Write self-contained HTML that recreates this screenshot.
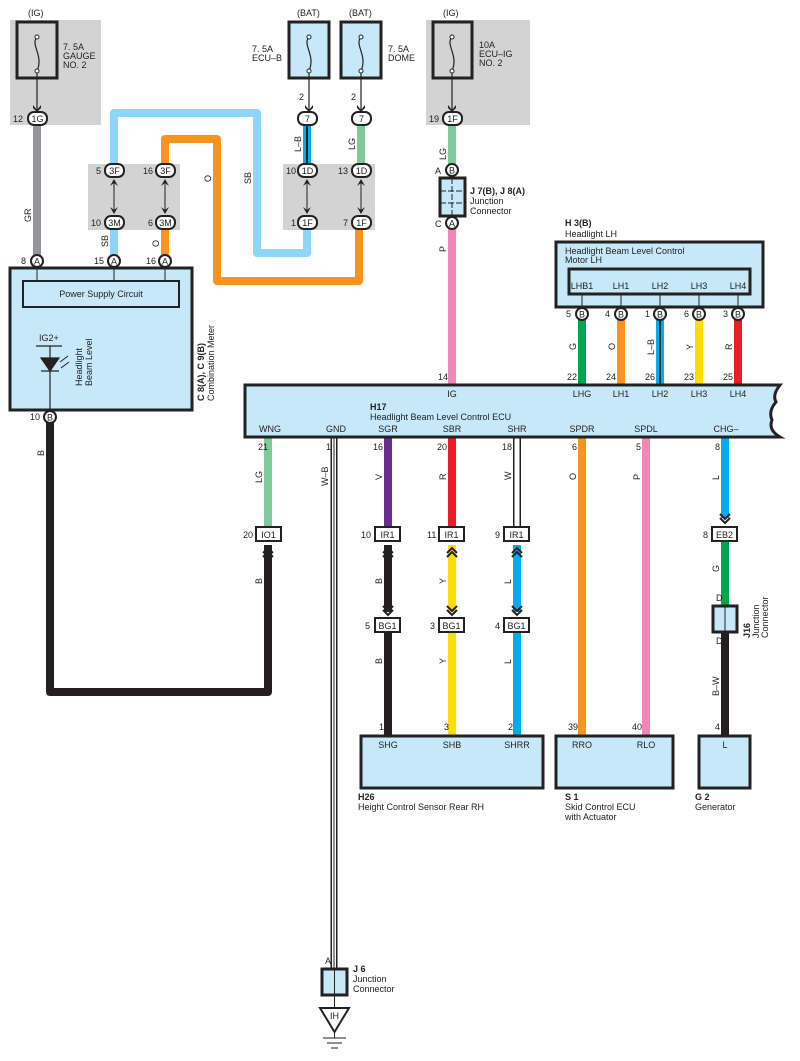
<!DOCTYPE html>
<html><head><meta charset="utf-8"><style>
body{margin:0;background:#fff}
svg{display:block}
text{font-family:"Liberation Sans",sans-serif;font-size:9px;fill:#222}
.b{font-weight:bold}
</style></head><body>
<svg width="800" height="1061" viewBox="0 0 800 1061" xmlns="http://www.w3.org/2000/svg">
<defs>
<g id="dn"><path d="M-4,-6 L0,-1 L4,-6 L4,-3 L0,1 L-4,-3Z" fill="#222"/></g>
</defs>
<rect x="10" y="20" width="91" height="105" fill="#d3d3d3"/>
<rect x="426" y="20" width="104" height="105" fill="#d3d3d3"/>
<rect x="88" y="164" width="92" height="66" fill="#d3d3d3"/>
<rect x="283" y="164" width="92" height="66" fill="#d3d3d3"/>

<g stroke="#222" stroke-width="3">
<rect x="17" y="22" width="40" height="56" fill="none"/>
<rect x="289" y="22" width="40" height="56" fill="#c6e8f8"/>
<rect x="341" y="22" width="40" height="56" fill="#c6e8f8"/>
<rect x="433" y="22" width="39" height="56" fill="none"/>
</g>
<g fill="none" stroke="#222" stroke-width="1.2">
<path d="M37,37 C30,45 44,55 37,71"/><path d="M309,37 C302,45 316,55 309,71"/><path d="M361,37 C354,45 368,55 361,71"/><path d="M452,37 C445,45 459,55 452,71"/>
<path d="M37,71 V116 M309,71 V116 M361,71 V116 M452,71 V116"/>
</g>
<g fill="#fff" stroke="#222" stroke-width="1"><circle cx="37" cy="37" r="2"/><circle cx="37" cy="71" r="2"/><circle cx="309" cy="37" r="2"/><circle cx="309" cy="71" r="2"/><circle cx="361" cy="37" r="2"/><circle cx="361" cy="71" r="2"/><circle cx="452" cy="37" r="2"/><circle cx="452" cy="71" r="2"/></g>
<use href="#dn" x="37" y="111"/><use href="#dn" x="309" y="111"/><use href="#dn" x="361" y="111"/><use href="#dn" x="452" y="111"/>
<text x="28" y="16">(IG)</text><text x="297" y="16">(BAT)</text><text x="349" y="16">(BAT)</text><text x="443" y="16">(IG)</text>
<text x="63" y="50">7. 5A</text><text x="63" y="59">GAUGE</text><text x="63" y="68">NO. 2</text>
<text x="252" y="52">7. 5A</text><text x="252" y="61">ECU–B</text>
<text x="388" y="52">7. 5A</text><text x="388" y="61">DOME</text>
<text x="479" y="48">10A</text><text x="479" y="57">ECU–IG</text><text x="479" y="66">NO. 2</text>
<text x="299" y="100">2</text><text x="351" y="100">2</text>

<g fill="none" stroke-linejoin="round">
<path d="M37,124 V255" stroke="#939598" stroke-width="8"/>
<path d="M114,230 V255" stroke="#8ed6f7" stroke-width="8"/>
<path d="M165,230 V255" stroke="#f7941d" stroke-width="8"/>
<path d="M114,165 V113 H257 V253 H307 V229" stroke="#8ed6f7" stroke-width="8"/>
<path d="M165,165 V139 H217 V281 H359 V229" stroke="#f7941d" stroke-width="8"/>
<path d="M307,124 V165" stroke="#00aeef" stroke-width="8"/><path d="M307,124 V165" stroke="#222" stroke-width="2"/>
<path d="M361,124 V165" stroke="#80c99a" stroke-width="8"/>
<path d="M452,124 V165" stroke="#80c99a" stroke-width="8"/>
<path d="M452,229 V386" stroke="#f287b7" stroke-width="8"/>
<path d="M582,320 V386" stroke="#00a651" stroke-width="8"/>
<path d="M621,320 V386" stroke="#f7941d" stroke-width="8"/>
<path d="M660,320 V386" stroke="#00aeef" stroke-width="8"/><path d="M660,320 V386" stroke="#222" stroke-width="2"/>
<path d="M699,320 V386" stroke="#ffdd00" stroke-width="8"/>
<path d="M738,320 V386" stroke="#ed1c24" stroke-width="8"/>
<path d="M50,423 V692 H268 V545" stroke="#231f20" stroke-width="8"/>
<path d="M268,437 V527" stroke="#80c99a" stroke-width="8"/>
<path d="M388,437 V527" stroke="#6a2c91" stroke-width="8"/>
<path d="M452,437 V527" stroke="#ed1c24" stroke-width="8"/>
<path d="M517,437 V527" stroke="#222" stroke-width="8"/><path d="M517,437 V527" stroke="#fff" stroke-width="5"/>
<path d="M582,437 V736" stroke="#f7941d" stroke-width="8"/>
<path d="M646,437 V736" stroke="#f287b7" stroke-width="8"/>
<path d="M725,437 V518" stroke="#00aeef" stroke-width="8"/>
<path d="M725,541 V606" stroke="#00a651" stroke-width="8"/>
<path d="M725,632 V736" stroke="#231f20" stroke-width="8"/>
<path d="M388,545 V612 M388,632 V736" stroke="#231f20" stroke-width="8"/>
<path d="M452,545 V612 M452,632 V736" stroke="#ffdd00" stroke-width="8"/>
<path d="M517,545 V612 M517,632 V736" stroke="#00aeef" stroke-width="8"/>
<path d="M334,437 V969" stroke="#222" stroke-width="7"/><path d="M334,437 V969" stroke="#fff" stroke-width="4"/><path d="M334,437 V969" stroke="#222" stroke-width="1"/>
</g>
<g font-size="9">
<text transform="translate(31,222) rotate(-90)">GR</text>
<text transform="translate(108,247) rotate(-90)">SB</text>
<text transform="translate(159,247) rotate(-90)">O</text>
<text transform="translate(211,182) rotate(-90)">O</text>
<text transform="translate(251,184) rotate(-90)">SB</text>
<text transform="translate(301,152) rotate(-90)">L–B</text>
<text transform="translate(355,150) rotate(-90)">LG</text>
<text transform="translate(446,160) rotate(-90)">LG</text>
<text transform="translate(446,252) rotate(-90)">P</text>
<text transform="translate(576,350) rotate(-90)">G</text>
<text transform="translate(615,350) rotate(-90)">O</text>
<text transform="translate(654,355) rotate(-90)">L–B</text>
<text transform="translate(693,350) rotate(-90)">Y</text>
<text transform="translate(732,350) rotate(-90)">R</text>
<text transform="translate(44,456) rotate(-90)">B</text>
<text transform="translate(262,483) rotate(-90)">LG</text>
<text transform="translate(328,486) rotate(-90)">W–B</text>
<text transform="translate(382,480) rotate(-90)">V</text>
<text transform="translate(446,480) rotate(-90)">R</text>
<text transform="translate(511,480) rotate(-90)">W</text>
<text transform="translate(576,480) rotate(-90)">O</text>
<text transform="translate(640,480) rotate(-90)">P</text>
<text transform="translate(719,480) rotate(-90)">L</text>
<text transform="translate(262,584) rotate(-90)">B</text>
<text transform="translate(382,584) rotate(-90)">B</text>
<text transform="translate(446,584) rotate(-90)">Y</text>
<text transform="translate(511,584) rotate(-90)">L</text>
<text transform="translate(719,572) rotate(-90)">G</text>
<text transform="translate(382,664) rotate(-90)">B</text>
<text transform="translate(446,664) rotate(-90)">Y</text>
<text transform="translate(511,664) rotate(-90)">L</text>
<text transform="translate(719,696) rotate(-90)">B–W</text>
</g>

<g fill="#fff" stroke="#222" stroke-width="2">
<rect x="28" y="112" width="19" height="13" rx="6"/>
<rect x="298" y="112" width="19" height="13" rx="6"/><rect x="352" y="112" width="19" height="13" rx="6"/>
<rect x="443" y="112" width="19" height="13" rx="6"/>
<rect x="105" y="164" width="19" height="13" rx="6"/><rect x="156" y="164" width="19" height="13" rx="6"/>
<rect x="105" y="216" width="19" height="13" rx="6"/><rect x="156" y="216" width="19" height="13" rx="6"/>
<rect x="298" y="164" width="19" height="13" rx="6"/><rect x="352" y="164" width="19" height="13" rx="6"/>
<rect x="298" y="216" width="19" height="13" rx="6"/><rect x="352" y="216" width="19" height="13" rx="6"/>
</g>
<g text-anchor="middle" font-size="9">
<text x="37.5" y="122">1G</text><text x="307.5" y="122">7</text><text x="361.5" y="122">7</text><text x="452.5" y="122">1F</text>
<text x="114.5" y="174">3F</text><text x="165.5" y="174">3F</text><text x="114.5" y="226">3M</text><text x="165.5" y="226">3M</text>
<text x="307.5" y="174">1D</text><text x="361.5" y="174">1D</text><text x="307.5" y="226">1F</text><text x="361.5" y="226">1F</text>
</g>
<text x="13" y="122">12</text><text x="429" y="122">19</text>
<text x="96" y="174">5</text><text x="143" y="174">16</text><text x="91" y="226">10</text><text x="148" y="226">6</text>
<text x="286" y="174">10</text><text x="338" y="174">13</text><text x="291" y="226">1</text><text x="343" y="226">7</text>
<g stroke="#222" stroke-width="1"><path d="M114,180 V213 M165,180 V213 M307,180 V213 M361,180 V213"/></g>
<g fill="#222">
<path d="M110,186 L114,179 L118,186 L114,183Z M161,186 L165,179 L169,186 L165,183Z M303,186 L307,179 L311,186 L307,183Z M357,186 L361,179 L365,186 L361,183Z"/>
<path d="M110,207 L114,214 L118,207 L114,210Z M161,207 L165,214 L169,207 L165,210Z M303,207 L307,214 L311,207 L307,210Z M357,207 L361,214 L365,207 L361,210Z"/>
</g>

<rect x="440" y="178" width="25" height="38" fill="#c6e8f8" stroke="#222" stroke-width="3"/>
<path d="M452,178 V216 M440,191 H465 M440,203 H465" stroke="#222" stroke-width="1" stroke-dasharray="6,2"/>
<text x="470" y="194" class="b">J 7(B), J 8(A)</text><text x="470" y="204">Junction</text><text x="470" y="214">Connector</text>
<text x="435" y="174">A</text><text x="435" y="227">C</text>

<rect x="10" y="268" width="182" height="142" fill="#c6e8f8" stroke="#222" stroke-width="3"/>
<rect x="23" y="281" width="156" height="26" fill="#c6e8f8" stroke="#222" stroke-width="2"/>
<path d="M37,268 V281 M114,268 V281 M165,268 V281" stroke="#222" stroke-width="1"/>
<text x="101" y="297" text-anchor="middle">Power Supply Circuit</text>
<text x="39" y="341">IG2+</text>
<path d="M36,346 H62 M50,346 V411 M41,358 H59 L50,371Z M41,371 H59" stroke="#222" stroke-width="1.2" fill="#222"/>
<path d="M60,362 L68,356 M61,368 L69,362" stroke="#222" stroke-width="1"/>
<text transform="translate(82,386) rotate(-90)" font-size="8.5">Headlight</text>
<text transform="translate(92,386) rotate(-90)" font-size="8.5">Beam Level</text>
<text transform="translate(204,401) rotate(-90)" class="b">C 8(A), C 9(B)</text>
<text transform="translate(214,401) rotate(-90)">Combination Meter</text>

<text x="565" y="226" class="b">H 3(B)</text><text x="565" y="237">Headlight LH</text>
<rect x="556" y="242" width="207" height="65" fill="#c6e8f8" stroke="#222" stroke-width="3"/>
<text x="565" y="254">Headlight Beam Level Control</text><text x="565" y="263">Motor LH</text>
<rect x="569" y="269" width="181" height="25" fill="#c6e8f8" stroke="#222" stroke-width="3"/>
<g text-anchor="middle"><text x="582" y="289">LHB1</text><text x="621" y="289">LH1</text><text x="660" y="289">LH2</text><text x="699" y="289">LH3</text><text x="738" y="289">LH4</text></g>
<path d="M582,294 V308 M621,294 V308 M660,294 V308 M699,294 V308 M738,294 V308" stroke="#222" stroke-width="1"/>

<path d="M245,385 H780 Q772,395 776,402 Q768,411 772,420 Q768,430 780,437 H245Z" fill="#c6e8f8" stroke="#222" stroke-width="3"/>
<g text-anchor="middle">
<text x="452" y="397">IG</text><text x="582" y="397">LHG</text><text x="621" y="397">LH1</text><text x="660" y="397">LH2</text><text x="699" y="397">LH3</text><text x="738" y="397">LH4</text>
<text x="270" y="432">WNG</text><text x="336" y="432">GND</text><text x="388" y="432">SGR</text><text x="452" y="432">SBR</text><text x="517" y="432">SHR</text><text x="582" y="432">SPDR</text><text x="646" y="432">SPDL</text><text x="726" y="432">CHG–</text>
</g>
<text x="370" y="410" class="b">H17</text><text x="370" y="420">Headlight Beam Level Control ECU</text>
<g font-size="9"><text x="438" y="380">14</text><text x="567" y="380">22</text><text x="606" y="380">24</text><text x="645" y="380">26</text><text x="684" y="380">23</text><text x="723" y="380">25</text>
<text x="258" y="450">21</text><text x="326" y="450">1</text><text x="373" y="450">16</text><text x="437" y="450">20</text><text x="502" y="450">18</text><text x="572" y="450">6</text><text x="636" y="450">5</text><text x="715" y="450">8</text></g>

<g fill="#fff" stroke="#222" stroke-width="2">
<circle cx="37" cy="261" r="6"/><circle cx="114" cy="261" r="6"/><circle cx="165" cy="261" r="6"/>
<circle cx="50" cy="417" r="6"/><circle cx="452" cy="170" r="6"/><circle cx="452" cy="223" r="6"/>
<circle cx="582" cy="314" r="6"/><circle cx="621" cy="314" r="6"/><circle cx="660" cy="314" r="6"/><circle cx="699" cy="314" r="6"/><circle cx="738" cy="314" r="6"/>
</g>
<g text-anchor="middle" font-size="9">
<text x="37" y="264.5">A</text><text x="114" y="264.5">A</text><text x="165" y="264.5">A</text><text x="50" y="420.5">B</text><text x="452" y="173.5">B</text><text x="452" y="226.5">A</text>
<text x="582" y="317.5">B</text><text x="621" y="317.5">B</text><text x="660" y="317.5">B</text><text x="699" y="317.5">B</text><text x="738" y="317.5">B</text>
</g>
<text x="21" y="264">8</text><text x="94" y="264">15</text><text x="146" y="264">16</text><text x="30" y="420">10</text>
<text x="566" y="317">5</text><text x="605" y="317">4</text><text x="645" y="317">1</text><text x="684" y="317">6</text><text x="723" y="317">3</text>

<g fill="#fff" stroke="#222" stroke-width="2">
<rect x="256" y="527" width="25" height="14"/><rect x="375" y="527" width="25" height="14"/><rect x="439" y="527" width="25" height="14"/><rect x="504" y="527" width="25" height="14"/><rect x="712" y="527" width="25" height="14"/>
<rect x="375" y="618" width="25" height="14"/><rect x="439" y="618" width="25" height="14"/><rect x="504" y="618" width="25" height="14"/>
</g>
<g text-anchor="middle"><text x="268.5" y="538">IO1</text><text x="387.5" y="538">IR1</text><text x="451.5" y="538">IR1</text><text x="516.5" y="538">IR1</text><text x="724.5" y="538">EB2</text>
<text x="387.5" y="629">BG1</text><text x="451.5" y="629">BG1</text><text x="516.5" y="629">BG1</text></g>
<text x="243" y="538">20</text><text x="361" y="538">10</text><text x="427" y="538">11</text><text x="495" y="538">9</text><text x="703" y="538">8</text>
<text x="365" y="629">5</text><text x="430" y="629">3</text><text x="495" y="629">4</text>
<g fill="none" stroke="#222" stroke-width="2">
<path d="M263,553 L268,548 L273,553 M263,557 L268,552 L273,557"/>
<path d="M383,553 L388,548 L393,553 M383,557 L388,552 L393,557"/>
<path d="M447,553 L452,548 L457,553 M447,557 L452,552 L457,557"/>
<path d="M512,553 L517,548 L522,553 M512,557 L517,552 L522,557"/>
<path d="M383,606 L388,611 L393,606 M383,610 L388,615 L393,610"/>
<path d="M447,606 L452,611 L457,606 M447,610 L452,615 L457,610"/>
<path d="M512,606 L517,611 L522,606 M512,610 L517,615 L522,610"/>
<path d="M720,514 L725,519 L730,514 M720,518 L725,523 L730,518"/>
</g>

<rect x="713" y="606" width="24" height="26" fill="#c6e8f8" stroke="#222" stroke-width="3"/>
<path d="M725,606 V632" stroke="#222" stroke-width="1"/>
<text x="716" y="601">D</text><text x="716" y="644">D</text>
<text transform="translate(750,638) rotate(-90)" class="b">J16</text>
<text transform="translate(759,638) rotate(-90)">Junction</text>
<text transform="translate(768,638) rotate(-90)">Connector</text>

<g fill="#c6e8f8" stroke="#222" stroke-width="3">
<rect x="361" y="736" width="182" height="52"/><rect x="556" y="736" width="117" height="52"/><rect x="699" y="736" width="51" height="52"/>
</g>
<g text-anchor="middle"><text x="388" y="748">SHG</text><text x="452" y="748">SHB</text><text x="517" y="748">SHRR</text><text x="582" y="748">RRO</text><text x="646" y="748">RLO</text><text x="725" y="748">L</text></g>
<text x="379" y="730">1</text><text x="444" y="730">3</text><text x="508" y="730">2</text><text x="568" y="730">39</text><text x="632" y="730">40</text><text x="715" y="730">4</text>
<text x="358" y="800" class="b">H26</text><text x="358" y="810">Height Control Sensor Rear RH</text>
<text x="565" y="800" class="b">S 1</text><text x="565" y="810">Skid Control ECU</text><text x="565" y="820">with Actuator</text>
<text x="695" y="800" class="b">G 2</text><text x="695" y="810">Generator</text>

<rect x="322" y="969" width="25" height="26" fill="#c6e8f8" stroke="#222" stroke-width="3"/>
<path d="M334.5,969 V1009" stroke="#222" stroke-width="1"/>
<text x="325" y="964">A</text>
<text x="353" y="972" class="b">J 6</text><text x="353" y="982">Junction</text><text x="353" y="992">Connector</text>
<path d="M320,1008 H349 L334.5,1032Z" fill="#fff" stroke="#222" stroke-width="2"/>
<text x="334.5" y="1019" text-anchor="middle">IH</text>
<path d="M334.5,1032 V1038 M323,1038 H346 M327,1043 H342 M331,1048 H338" stroke="#222" stroke-width="1"/>
</svg>
</body></html>
